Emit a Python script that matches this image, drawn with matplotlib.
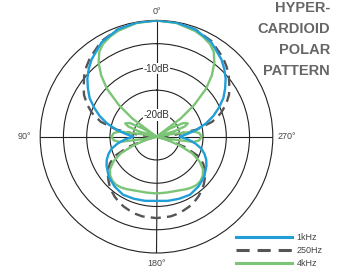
import numpy as np
import matplotlib
matplotlib.use("Agg")
import matplotlib.pyplot as plt

plt.rcParams['font.family'] = ['Liberation Sans', 'DejaVu Sans']

# ---- data (half pattern 0..180 deg, mirrored; values in dB) ----
blue_deg = [0, 10, 20, 30, 40, 45, 50, 55, 60, 65, 70, 75, 80, 85, 90, 95, 100,
            105, 110, 115, 120, 130, 140, 150, 160, 170, 180]
blue_db = [0, -0.1, -0.5, -1.5, -3.3, -4.4, -5.6, -7.0, -8.4, -10.2, -12.0, -14.0,
           -16.2, -18.4, -20.0, -18.2, -16.5, -15.0, -14.0, -13.2, -12.6, -11.6,
           -11.0, -10.6, -10.8, -11.0, -11.2]

dash_deg = [0, 10, 20, 30, 40, 45, 50, 55, 60, 65, 70, 75, 80, 85, 90, 100, 105,
            110, 115, 120, 125, 130, 135, 140, 145, 150, 155, 160, 165, 170, 180]
dash_db = [0, -0.1, -0.5, -1.3, -2.8, -3.7, -4.7, -5.9, -7.0, -8.5, -10.3, -12.6,
           -16.3, -21.5, -25, -25, -23, -18.5, -15.0, -13.4, -12.3, -11.4, -10.6,
           -9.9, -9.3, -8.8, -8.4, -8.1, -7.8, -7.6, -7.5]

green_deg = [0, 10, 20, 25, 30, 34, 38, 42, 46, 50, 53, 56, 59, 63, 67, 70, 73, 76,
             80, 82, 85, 90, 95, 98, 100, 103, 107, 111, 115, 120, 125, 130, 135,
             140, 145, 150, 160, 170, 180]
green_db = [0, -0.2, -0.8, -1.3, -2.0, -3.0, -4.8, -7.2, -10.2, -14.5, -18.5, -25,
            -21.5, -18.5, -17.7, -18.5, -21, -25, -22, -17.0, -15.8, -15.3, -15.8,
            -17.0, -22, -25, -22.5, -19.5, -16.5, -14.3, -12.8, -12.0, -11.6, -11.5,
            -11.7, -12.0, -12.6, -12.8, -12.8]

series_labels = ['1kHz', '250Hz', '4kHz']
theta_ticks = [0, 90, 180, 270]
theta_labels = ['0°', '90°', '180°', '270°']
ring_db = [-20, -15, -10, -5]
ring_labels = {-10: '-10dB', -20: '-20dB'}
title_lines = ['HYPER-', 'CARDIOID', 'POLAR', 'PATTERN']

FLOOR = -25.0
BLUE = '#1f9ed8'
GREY = '#555555'
GREEN = '#7cc576'


def full(deg, db):
    d = list(deg) + [360 - a for a in reversed(deg[:-1])]
    v = list(db) + list(reversed(db[:-1]))
    th = np.radians(d)
    r = np.clip(np.array(v) - FLOOR, 0, None)
    return th, r


W, H = 340, 270
fig = plt.figure(figsize=(W / 100, H / 100), dpi=100)
cx, cy, R = 156.5, 136.7, 116.3
ax = fig.add_axes([(cx - R) / W, (H - cy - R) / H, 2 * R / W, 2 * R / H],
                  projection='polar')
ax.set_theta_zero_location('N')
ax.set_theta_direction(1)
ax.set_ylim(0, -FLOOR)

ax.set_rgrids([d - FLOOR for d in ring_db], labels=[''] * len(ring_db))
ax.set_thetagrids(theta_ticks, labels=[''] * len(theta_ticks))
ax.grid(True, color='#222222', linewidth=0.8, linestyle='-')
ax.spines['polar'].set_color('#222222')
ax.spines['polar'].set_linewidth(0.8)

# angle labels placed just outside the outer ring
rmax = -FLOOR
label_pos = {0: (rmax + 1.9, 'center', 'center'),
             90: (rmax + 2.0, 'right', 'center'),
             180: (rmax + 2.2, 'center', 'center'),
             270: (rmax + 1.1, 'left', 'center')}
for a, txt in zip(theta_ticks, theta_labels):
    rr, ha, va = label_pos[a]
    ax.text(np.radians(a), rr, txt, ha=ha, va=va, fontsize=6.5, color='#444444',
            clip_on=False)

th, r = full(dash_deg, dash_db)
l2, = ax.plot(th, r, color=GREY, lw=1.7, dashes=(4.3, 2.6), label=series_labels[1], zorder=3)
th, r = full(green_deg, green_db)
l3, = ax.plot(th, r, color=GREEN, lw=1.7, label=series_labels[2], zorder=4)
th, r = full(blue_deg, blue_db)
l1, = ax.plot(th, r, color=BLUE, lw=1.7, label=series_labels[0], zorder=5)

for d, txt in ring_labels.items():
    rr = d - FLOOR
    ax.text(0, rr - 0.35, txt, ha='center', va='center', fontsize=7, color='#333333',
            bbox=dict(facecolor='white', edgecolor='none', pad=0.6), zorder=6)

for i, t in enumerate(title_lines):
    fig.text(330 / W, 1 - (8 + 21 * i) / H, t, ha='right', va='center',
             fontsize=10.5, fontweight='bold', color='#666666')

leg = fig.legend([l1, l2, l3], series_labels, loc='upper left',
                 bbox_to_anchor=(236 / W, 1 - 233 / H), frameon=False,
                 fontsize=6.5, handlelength=6.2, handletextpad=0.5,
                 labelspacing=0.45, borderpad=0, borderaxespad=0)
for h in leg.legend_handles:
    h.set_linewidth(2.2)
for t in leg.get_texts():
    t.set_color('#444444')

fig.savefig('out.png', dpi=100)
